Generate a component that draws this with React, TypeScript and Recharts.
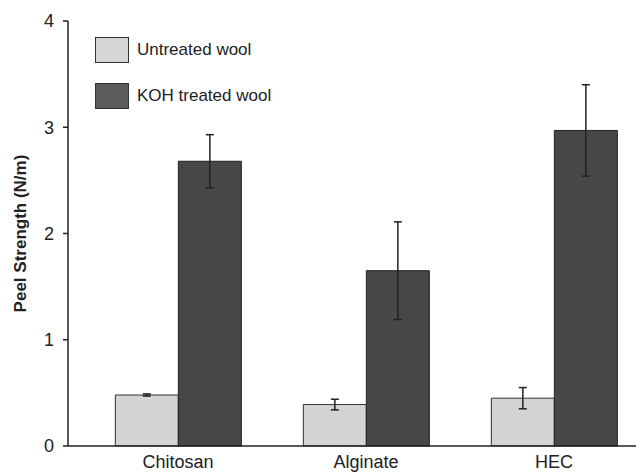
import React from 'react';
import { BarChart, Bar, XAxis, YAxis, ErrorBar, Label } from 'recharts';

const categories = ['Chitosan', 'Alginate', 'HEC'];
const untreated = [0.48, 0.39, 0.45];
const untreatedErr = [0.01, 0.05, 0.1];
const kohTreated = [2.68, 1.65, 2.97];
const kohErr = [0.25, 0.46, 0.43];
const yTicks = [0, 1, 2, 3, 4];

const seriesNames = ['Untreated wool', 'KOH treated wool'];
const barColors = ['#d4d4d4', '#474747'];
const legendColors = ['#d6d6d6', '#5c5c5c'];

const data = categories.map((name, i) => ({
  name,
  untreated: untreated[i],
  untreatedErr: untreatedErr[i],
  koh: kohTreated[i],
  kohErr: kohErr[i],
}));

const FONT = '"Liberation Sans", Arial, sans-serif';

// legend drawn as a plain overlay so it takes no room from the plot
function LegendBox() {
  return (
    <div style={{ position: 'absolute', left: 95, top: 37, fontFamily: FONT, fontSize: 17, color: '#222' }}>
      {seriesNames.map((s, i) => (
        <div key={s} style={{ display: 'flex', alignItems: 'center', height: 26, marginBottom: i === 0 ? 20 : 0 }}>
          <div
            style={{
              width: 32,
              height: 24,
              background: legendColors[i],
              border: '1px solid #333',
              marginRight: 8,
            }}
          />
          <span>{s}</span>
        </div>
      ))}
    </div>
  );
}

function YLabel(props: any) {
  const vb = props.viewBox || {};
  const cx = 20;
  const cy = vb.y + vb.height / 2;
  return (
    <text
      x={cx}
      y={cy}
      transform={`rotate(-90, ${cx}, ${cy})`}
      textAnchor="middle"
      dominantBaseline="central"
      fontFamily={FONT}
      fontSize={17}
      fontWeight="bold"
      fill="#222"
    >
      Peel Strength (N/m)
    </text>
  );
}

export default function App() {
  return (
    <div style={{ position: 'absolute', left: 0, top: 0, width: 636, height: 472, overflow: 'hidden', background: '#fff' }}>
      <BarChart
        width={648}
        height={472}
        data={data}
        margin={{ top: 21, right: 0, bottom: 0, left: 8 }}
        barCategoryGap="16.67%"
        barGap={0}
      >
        <XAxis
          dataKey="name"
          padding={{ left: 16, right: 0 }}
          tickLine={false}
          tickSize={0}
          tickMargin={9}
          axisLine={{ stroke: '#222', strokeWidth: 1.5 }}
          tick={{ fontFamily: FONT, fontSize: 18, fill: '#222' }}
          height={26}
        />
        <YAxis
          width={60}
          domain={[0, 4]}
          ticks={yTicks}
          tickSize={5}
          tickMargin={9}
          axisLine={{ stroke: '#222', strokeWidth: 1.5 }}
          tickLine={{ stroke: '#222', strokeWidth: 1.5 }}
          tick={{ fontFamily: FONT, fontSize: 18, fill: '#222' }}
        >
          <Label content={YLabel} />
        </YAxis>
        <Bar dataKey="untreated" name={seriesNames[0]} fill={barColors[0]} stroke="#333" strokeWidth={1} isAnimationActive={false}>
          <ErrorBar dataKey="untreatedErr" width={4} stroke="#222" strokeWidth={1.5} />
        </Bar>
        <Bar dataKey="koh" name={seriesNames[1]} fill={barColors[1]} stroke="#222" strokeWidth={1} isAnimationActive={false}>
          <ErrorBar dataKey="kohErr" width={4} stroke="#222" strokeWidth={1.5} />
        </Bar>
      </BarChart>
      <LegendBox />
    </div>
  );
}
